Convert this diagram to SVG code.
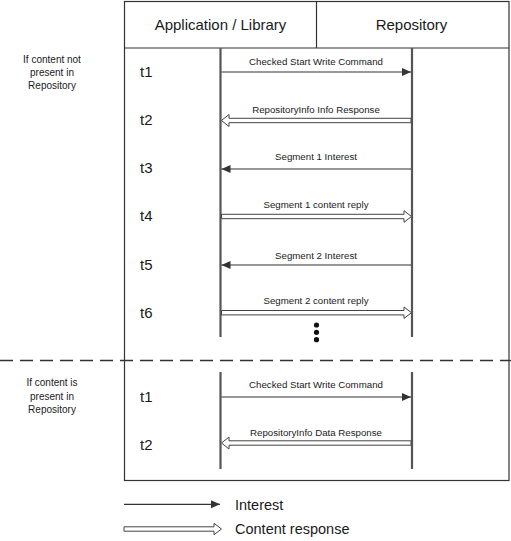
<svg xmlns="http://www.w3.org/2000/svg" width="511" height="541" viewBox="0 0 511 541">
<defs>
<style>
.txt{font-family:"Liberation Sans",Arial,sans-serif;fill:#1a1a1a}
.hdr{font-size:15px;text-anchor:middle}
.lbl{font-size:9.7px;text-anchor:middle}
.note{font-size:10px;text-anchor:middle}
.tm{font-size:15px}
.leg{font-size:14.5px}
.frame{fill:none;stroke:#333;stroke-width:1.2}
.life{stroke:#555;stroke-width:2.2;fill:none}
.int{stroke:#333;stroke-width:1.2;fill:none}
.cont{fill:#fff;stroke:#444;stroke-width:1}
.dash{stroke:#333;stroke-width:1.3;stroke-dasharray:13 7;fill:none}
</style>
<marker id="ah" markerUnits="userSpaceOnUse" markerWidth="10" markerHeight="10" viewBox="0 0 10 10" refX="9" refY="5" orient="auto">
<path d="M0,1 L9,5 L0,9 Z" fill="#333"/>
</marker>
</defs>

<g id="frame">
<rect class="frame" x="124.5" y="1.5" width="384.5" height="479"/>
<line class="frame" x1="124.5" y1="48" x2="509" y2="48"/>
<line class="frame" x1="316.5" y1="1.5" x2="316.5" y2="48"/>
</g>

<g id="node-app">
<text class="txt hdr" x="220.5" y="30">Application / Library</text>
</g>
<g id="node-repo">
<text class="txt hdr" x="411.5" y="30">Repository</text>
</g>

<g id="lifelines">
<line class="life" x1="220.5" y1="48" x2="220.5" y2="337"/>
<line class="life" x1="412" y1="48" x2="412" y2="337"/>
<line class="life" x1="220.5" y1="372" x2="220.5" y2="469"/>
<line class="life" x1="412" y1="372" x2="412" y2="469"/>
</g>

<g id="separator">
<line class="dash" x1="0" y1="360.5" x2="511" y2="360.5"/>
</g>

<g id="notes">
<text class="txt note" x="52" y="63">If content not</text>
<text class="txt note" x="52" y="76">present in</text>
<text class="txt note" x="52" y="89">Repository</text>
<text class="txt note" x="52" y="386">If content is</text>
<text class="txt note" x="52" y="400">present in</text>
<text class="txt note" x="52" y="413">Repository</text>
</g>

<g id="times">
<text class="txt tm" x="140" y="77">t1</text>
<text class="txt tm" x="140" y="125">t2</text>
<text class="txt tm" x="140" y="173">t3</text>
<text class="txt tm" x="140" y="221">t4</text>
<text class="txt tm" x="140" y="270">t5</text>
<text class="txt tm" x="140" y="318">t6</text>
<text class="txt tm" x="140" y="402">t1</text>
<text class="txt tm" x="140" y="450">t2</text>
</g>

<g id="connectors">
<line class="int" x1="221.5" y1="72" x2="411" y2="72" marker-end="url(#ah)"/>
<polygon class="cont" points="411,118.3 229,118.3 229,114.5 221.5,120.5 229,126.5 229,122.7 411,122.7"/>
<line class="int" x1="411" y1="169" x2="221.5" y2="169" marker-end="url(#ah)"/>
<polygon class="cont" points="221.5,214.3 404,214.3 404,210.7 411.5,216.5 404,222.3 404,218.7 221.5,218.7"/>
<line class="int" x1="411" y1="265" x2="221.5" y2="265" marker-end="url(#ah)"/>
<polygon class="cont" points="221.5,310.5 404,310.5 404,307 411.5,312.7 404,318.4 404,314.9 221.5,314.9"/>
<line class="int" x1="221.5" y1="397" x2="411" y2="397" marker-end="url(#ah)"/>
<polygon class="cont" points="411,440.8 229,440.8 229,437 221.5,443 229,449 229,445.2 411,445.2"/>
</g>

<g id="labels">
<text class="txt lbl" x="316" y="64.5">Checked Start Write Command</text>
<text class="txt lbl" x="316" y="112.5">RepositoryInfo Info Response</text>
<text class="txt lbl" x="316" y="159.5">Segment 1 Interest</text>
<text class="txt lbl" x="316" y="207.5">Segment 1 content reply</text>
<text class="txt lbl" x="316" y="258.5">Segment 2 Interest</text>
<text class="txt lbl" x="316" y="303.5">Segment 2 content reply</text>
<text class="txt lbl" x="316" y="387.5">Checked Start Write Command</text>
<text class="txt lbl" x="316" y="435.5">RepositoryInfo Data Response</text>
</g>

<g id="ellipsis">
<circle cx="316.5" cy="325" r="2.6" fill="#111"/>
<circle cx="316.5" cy="332.3" r="2.6" fill="#111"/>
<circle cx="316.5" cy="339.7" r="2.6" fill="#111"/>
</g>

<g id="legend">
<line class="int" x1="124" y1="504.3" x2="220" y2="504.3" marker-end="url(#ah)"/>
<polygon class="cont" points="124,526.8 214,526.8 214,523.3 221.5,529 214,534.7 214,531.2 124,531.2"/>
<text class="txt leg" x="235" y="509.5">Interest</text>
<text class="txt leg" x="235" y="534">Content response</text>
</g>
</svg>
